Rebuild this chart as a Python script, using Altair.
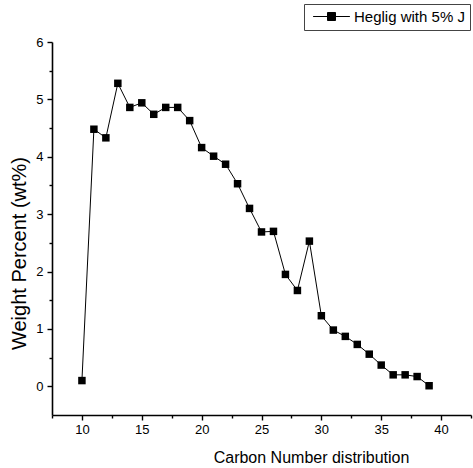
import altair as alt
import pandas as pd

carbon = list(range(10, 40))
weight = [0.10, 4.48, 4.33, 5.28, 4.86, 4.94, 4.74, 4.86, 4.86, 4.63,
          4.16, 4.01, 3.87, 3.53, 3.10, 2.69, 2.70, 1.95, 1.67, 2.53,
          1.23, 0.98, 0.87, 0.73, 0.56, 0.37, 0.20, 0.20, 0.17, 0.01]
series_name = "Heglig with 5% J"

x_major = [10, 15, 20, 25, 30, 35, 40]
x_minor = [7.5, 12.5, 17.5, 22.5, 27.5, 32.5, 37.5, 42.5]
y_major = [0, 1, 2, 3, 4, 5, 6]
y_minor = [0.5, 1.5, 2.5, 3.5, 4.5, 5.5]

df = pd.DataFrame({"carbon": carbon, "weight": weight, "series": series_name})

FONT = "Liberation Sans"
x_scale = alt.Scale(domain=[7.5, 42.5], nice=False, zero=False)
y_scale = alt.Scale(domain=[-0.5, 6], nice=False, zero=False)

common = dict(domainColor="black", tickColor="black", labelColor="black",
              titleColor="black", labelFont=FONT, titleFont=FONT,
              domainWidth=1.6, tickWidth=1.4, grid=False, ticks=True)

x_enc = alt.X("carbon:Q", scale=x_scale,
              axis=alt.Axis(values=x_major, format="d", tickSize=5, orient="bottom",
                            title="Carbon Number distribution",
                            titleX=259, titleY=47,
                            titleAlign="center", titleBaseline="alphabetic",
                            titleFontSize=16, titleFontWeight="normal",
                            labelFontSize=13, labelPadding=3,
                            labelFlush=False, **common))
y_enc = alt.Y("weight:Q", scale=y_scale,
              axis=alt.Axis(values=y_major, format="d", tickSize=5, orient="left",
                            title="Weight Percent (wt%)",
                            titleX=-27, titleY=211, titleAngle=270,
                            titleAlign="center", titleBaseline="alphabetic",
                            titleFontSize=20, titleFontWeight="normal",
                            labelFontSize=13, labelPadding=4,
                            labelFlush=False, **common))

minor_common = dict(tickColor="black", tickWidth=1.4, ticks=True, labels=False,
                    domain=False, grid=False, title=None)
x_minor_enc = alt.X("carbon:Q", scale=x_scale,
                    axis=alt.Axis(values=x_minor, tickSize=3, orient="bottom", **minor_common))
y_minor_enc = alt.Y("weight:Q", scale=y_scale,
                    axis=alt.Axis(values=y_minor, tickSize=3, orient="left", **minor_common))

line = alt.Chart(df).mark_line(color="black", strokeWidth=1).encode(x=x_enc, y=y_enc)

minor = alt.Chart(df).mark_point(opacity=0).encode(x=x_minor_enc, y=y_minor_enc)

legend_path = "M-4.6,0 L4.6,0 M-1,-1 L1,-1 L1,1 L-1,1 Z"

points = alt.Chart(df).mark_point(shape="square", filled=True, size=56, opacity=1).encode(
    x=x_enc, y=y_enc,
    color=alt.Color("series:N",
                    scale=alt.Scale(range=["black"]),
                    legend=alt.Legend(title=None, orient="none",
                                      legendX=252, legendY=-38,
                                      symbolType=legend_path, symbolSize=64,
                                      symbolFillColor="black", symbolStrokeColor="black",
                                      symbolStrokeWidth=1, symbolOffset=15,
                                      labelOffset=15, labelFontSize=15,
                                      labelFont=FONT, labelColor="black",
                                      padding=5, strokeColor="#444",
                                      fillColor="white")))

chart = alt.layer(alt.layer(line, points), minor).resolve_axis(
    x="independent", y="independent"
).properties(
    width=419, height=373,
    background="white",
    autosize=alt.AutoSizeParams(type="none"),
    padding={"left": 52, "top": 42, "right": 2, "bottom": 53},
).configure_view(strokeWidth=0)

chart.save("out.html", embed_options={"renderer": "svg", "actions": False})
